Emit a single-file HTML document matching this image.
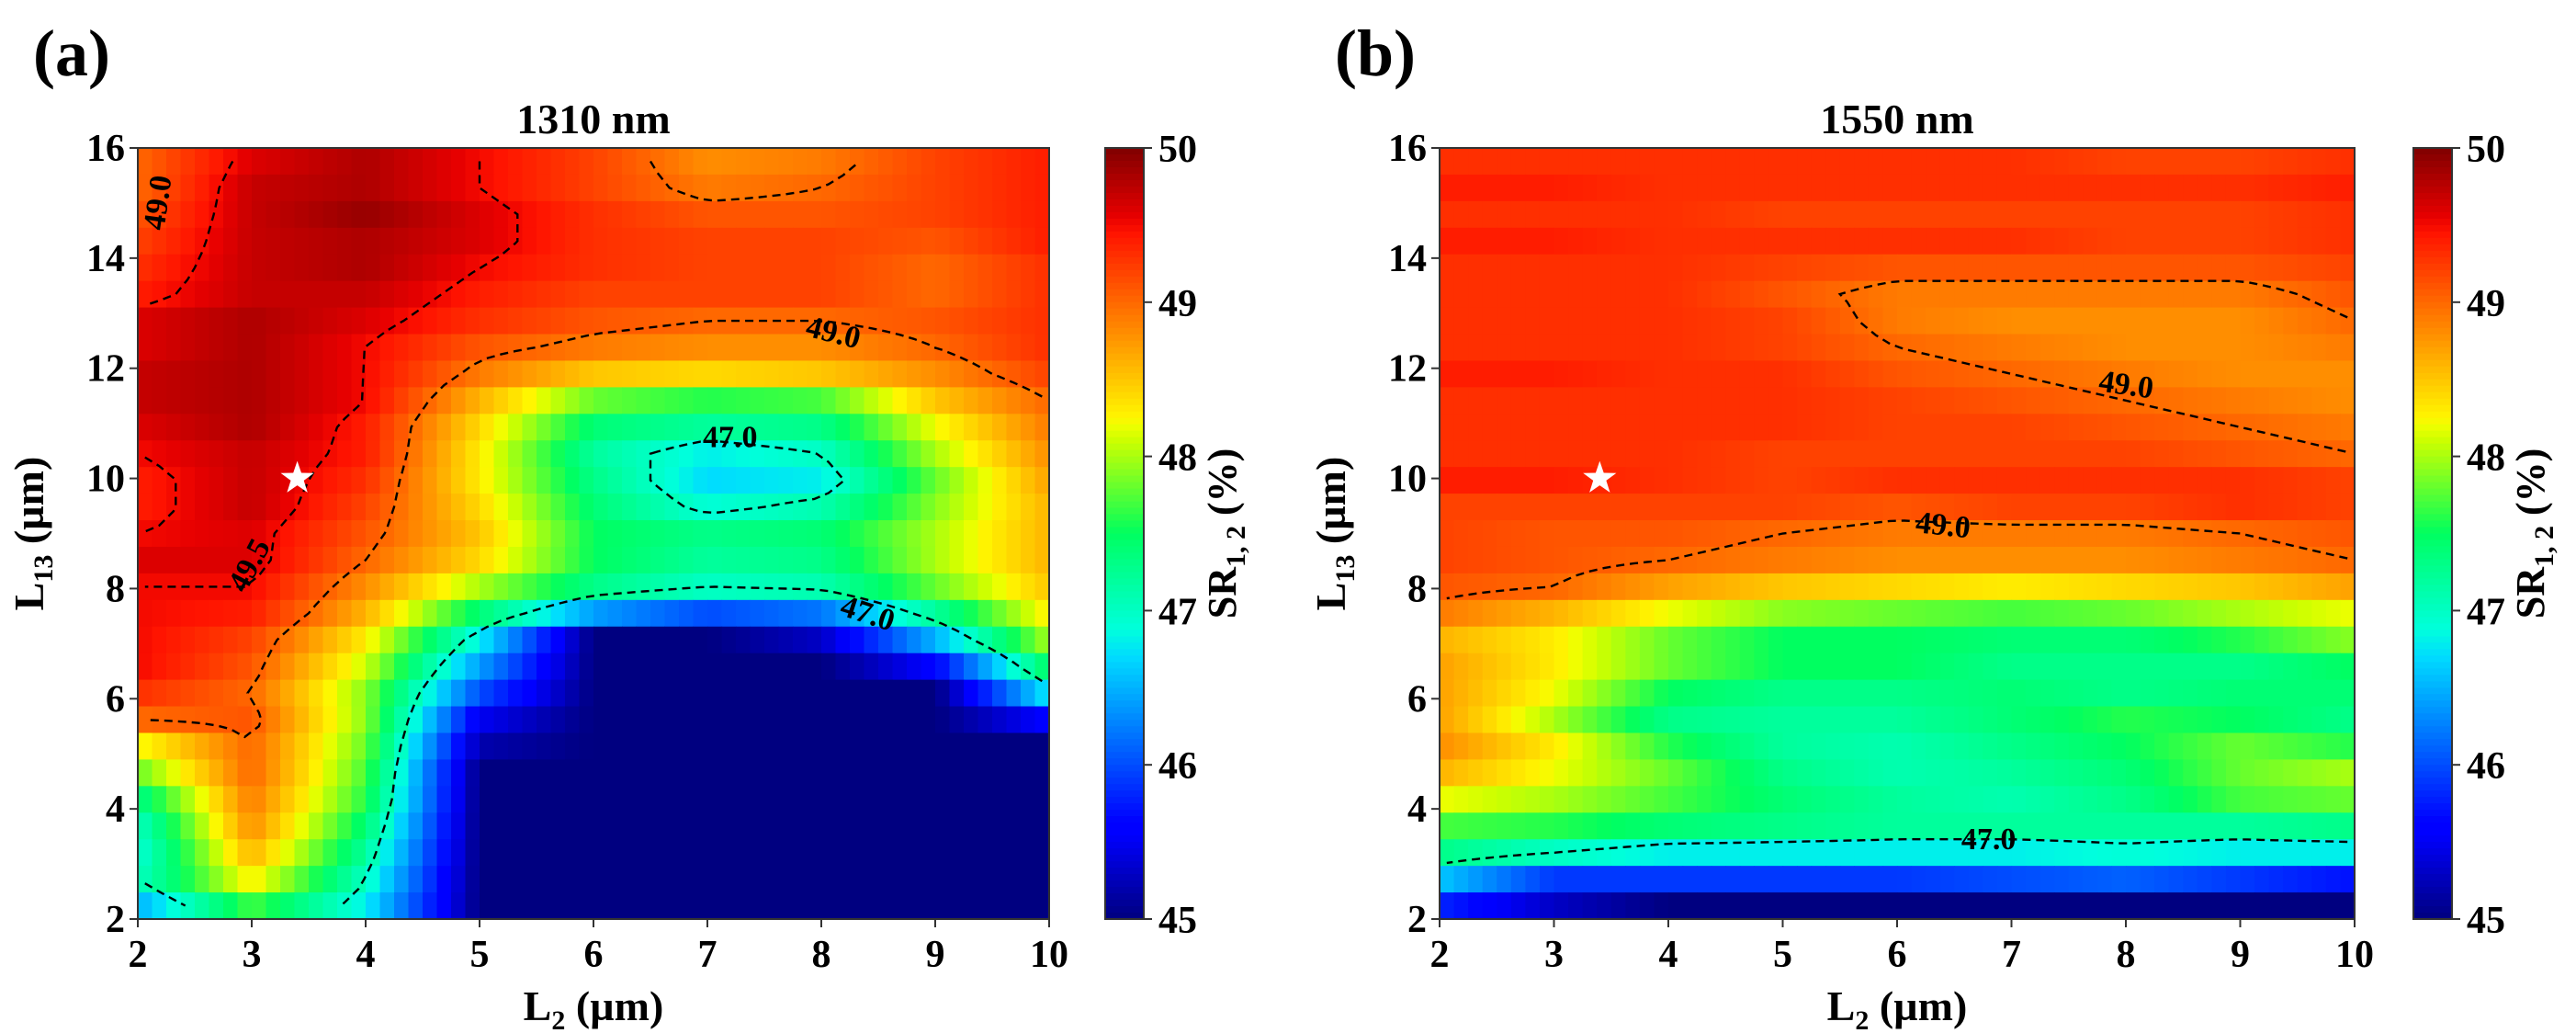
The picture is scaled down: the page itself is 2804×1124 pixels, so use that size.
<!DOCTYPE html>
<html><head><meta charset="utf-8"><style>
html,body{margin:0;padding:0;background:#fff;}
svg{display:block;font-family:"Liberation Serif",serif;font-weight:bold;}
</style></head><body>
<svg id="fig" width="2804" height="1124" viewBox="0 0 2804 1124" xmlns="http://www.w3.org/2000/svg"></svg>
<script>
// ---- data ----
const xValues = [2,3,4,5,6,7,8,9,10];
const yValues = [16,15.5,15,14.5,14,13.5,13,12.5,12,11.5,11,10.5,10,9.5,9,8.5,8,7.5,7,6.5,6,5.5,5,4.5,4,3.5,3,2.5,2];
const sr1310 = [
[49.0,49.6,49.8,49.5,49.2,48.8,48.9,49.2,49.4],
[49.0,49.7,49.8,49.5,49.2,48.9,49.0,49.2,49.4],
[49.1,49.7,49.9,49.6,49.3,49.1,49.1,49.2,49.4],
[49.2,49.7,49.8,49.6,49.3,49.2,49.2,49.1,49.4],
[49.3,49.7,49.8,49.5,49.3,49.2,49.2,49.0,49.3],
[49.4,49.7,49.7,49.4,49.2,49.2,49.2,49.0,49.3],
[49.6,49.8,49.6,49.3,49.1,49.0,49.0,49.1,49.3],
[49.6,49.8,49.5,49.1,48.9,48.8,48.8,49.0,49.3],
[49.7,49.8,49.5,48.9,48.5,48.4,48.5,48.8,49.2],
[49.7,49.8,49.5,48.6,47.8,47.6,47.7,48.5,49.0],
[49.6,49.8,49.4,48.4,47.4,47.2,47.3,48.2,48.9],
[49.5,49.7,49.4,48.3,47.2,46.8,47.0,48.0,48.8],
[49.4,49.7,49.3,48.3,47.3,46.7,46.8,47.8,48.7],
[49.4,49.7,49.2,48.4,47.4,46.9,47.1,47.9,48.6],
[49.5,49.6,49.1,48.5,47.5,47.3,47.4,48.0,48.6],
[49.6,49.6,49.0,48.4,47.5,47.2,47.3,48.0,48.6],
[49.5,49.5,48.8,48.0,47.3,47.0,47.1,47.8,48.5],
[49.5,49.4,48.6,47.4,46.4,46.0,46.2,47.2,48.3],
[49.5,49.2,48.3,46.8,45.0,45.0,45.3,46.5,48.0],
[49.5,49.1,48.1,46.4,45.0,45.0,45.0,45.6,47.5],
[49.3,49.0,47.9,46.0,45.0,45.0,45.0,45.0,46.8],
[49.0,49.1,47.9,45.5,45.0,45.0,45.0,45.0,45.6],
[48.2,49.0,47.8,45.2,45.0,45.0,45.0,45.0,45.0],
[47.8,49.0,47.7,45.0,45.0,45.0,45.0,45.0,45.0],
[47.3,48.9,47.6,45.0,45.0,45.0,45.0,45.0,45.0],
[47.0,48.8,47.4,45.0,45.0,45.0,45.0,45.0,45.0],
[46.9,48.6,47.2,45.0,45.0,45.0,45.0,45.0,45.0],
[47.0,48.3,47.0,45.0,45.0,45.0,45.0,45.0,45.0],
[46.5,47.7,46.8,45.0,45.0,45.0,45.0,45.0,45.0]];
const sr1550 = [
[49.3,49.3,49.3,49.3,49.3,49.3,49.2,49.2,49.3],
[49.4,49.4,49.3,49.3,49.3,49.3,49.3,49.3,49.4],
[49.3,49.3,49.3,49.2,49.2,49.2,49.2,49.2,49.3],
[49.4,49.4,49.3,49.3,49.3,49.3,49.2,49.2,49.3],
[49.3,49.3,49.3,49.2,49.1,49.1,49.1,49.1,49.2],
[49.3,49.3,49.3,49.1,48.9,48.9,48.9,48.9,49.1],
[49.3,49.3,49.3,49.2,48.9,48.8,48.8,48.8,49.0],
[49.3,49.3,49.3,49.2,49.0,48.9,48.8,48.8,48.9],
[49.4,49.4,49.3,49.3,49.1,49.0,48.9,48.8,48.8],
[49.3,49.3,49.3,49.3,49.2,49.1,49.0,48.9,48.8],
[49.3,49.3,49.3,49.3,49.2,49.2,49.1,49.0,48.9],
[49.3,49.3,49.3,49.2,49.2,49.2,49.2,49.1,49.0],
[49.4,49.4,49.3,49.2,49.3,49.3,49.3,49.3,49.2],
[49.2,49.2,49.2,49.2,49.1,49.2,49.2,49.3,49.2],
[49.2,49.1,49.1,49.0,48.9,48.9,48.9,49.0,49.1],
[49.2,49.1,49.0,48.9,48.8,48.8,48.8,48.9,49.0],
[49.1,49.0,48.7,48.5,48.4,48.3,48.4,48.5,48.7],
[48.9,48.6,48.2,47.9,47.8,47.7,47.8,48.0,48.2],
[48.6,48.3,47.8,47.5,47.5,47.4,47.4,47.6,47.9],
[48.7,48.3,47.8,47.5,47.5,47.3,47.3,47.3,47.5],
[48.7,48.2,47.5,47.3,47.3,47.4,47.3,47.4,47.4],
[48.7,48.0,47.3,47.2,47.2,47.4,47.6,47.5,47.3],
[48.8,48.3,47.6,47.2,47.1,47.3,47.5,47.8,47.6],
[48.6,48.2,47.8,47.3,47.1,47.2,47.4,47.8,48.0],
[48.2,48.0,47.7,47.4,47.2,47.1,47.3,47.7,47.8],
[47.7,47.6,47.4,47.3,47.2,47.2,47.2,47.2,47.3],
[47.3,47.0,46.8,46.8,46.8,46.8,46.9,46.8,46.8],
[46.6,45.9,45.9,45.9,45.9,46.0,46.1,45.9,45.7],
[45.8,45.3,45.0,45.0,45.0,45.0,45.0,45.0,45.0]];
const xTicks = [2,3,4,5,6,7,8,9,10];
const yTicks = [2,4,6,8,10,12,14,16];
const cbTicks = [45,46,47,48,49,50];
const levels1310 = [47.0,49.0,49.5];
const levels1550 = [47.0,49.0];
const labels1310 = [{t:"49.0",x:2.2,y:15.0,r:-82},{t:"47.0",x:7.2,y:10.7,r:0},{t:"49.0",x:8.1,y:12.6,r:14},{t:"49.5",x:3.0,y:8.4,r:-62},{t:"47.0",x:8.4,y:7.5,r:18}];
const labels1550 = [{t:"49.0",x:8.0,y:11.65,r:8},{t:"49.0",x:6.4,y:9.1,r:6},{t:"47.0",x:6.8,y:3.4,r:0}];
const starPoint = {x:3.4,y:10};

const NS="http://www.w3.org/2000/svg";
const svg=document.getElementById('fig');
function mk(tag,attrs,parent){const e=document.createElementNS(NS,tag);for(const k in attrs)e.setAttribute(k,attrs[k]);(parent||svg).appendChild(e);return e;}
function interp(pts,t){for(let i=0;i<pts.length-1;i++){if(t<=pts[i+1][0]){const f=(t-pts[i][0])/(pts[i+1][0]-pts[i][0]);return pts[i][1]+f*(pts[i+1][1]-pts[i][1]);}}return pts[pts.length-1][1];}
function jet(v){let t=Math.max(0,Math.min(1,(v-45)/5));
const r=interp([[0,0],[0.5,0],[0.65,1],[0.89,1],[1,0.5]],t);
const g=interp([[0,0],[0.125,0],[0.375,1],[0.64,1],[0.91,0],[1,0]],t);
const b=interp([[0,0.5],[0.11,1],[0.34,1],[0.52,0.3],[0.62,0],[1,0]],t);
return `rgb(${Math.round(r*255)},${Math.round(g*255)},${Math.round(b*255)})`;}

function panel(opt){
 const {L,R,T,B,data,levels,labels,title,tag,cbL,prefix}=opt;
 const W=R-L,H=B-T;
 const g=mk('g',{});
 
 
 const sx=x=>L+(x-2)/8*W, sy=y=>T+(16-y)/14*H;
 const N=64, rows=yValues.length, rh=H/rows, cw=W/N;
 const valAt=(j,xv)=>{const row=data[j];let k=Math.min(xValues.length-2,Math.floor((xv-2)));const f=(xv-xValues[k])/(xValues[k+1]-xValues[k]);return row[k]+f*(row[k+1]-row[k]);};
 const V=[];
 const hm=mk('g',{},g);
 
 
 for(let j=0;j<rows;j++){V.push([]);for(let i=0;i<N;i++){const xv=2+8*(i+0.5)/N;const v=valAt(j,xv);V[j].push(v);
  const c=mk('rect',{x:(L+i*cw).toFixed(2),y:(T+j*rh).toFixed(2),width:(cw+0.6).toFixed(2),height:(rh+0.6).toFixed(2),fill:jet(v)},hm);
  
  
 }}
 const px=i=>L+(i+0.5)*cw, py=j=>T+(j+0.5)*rh;
 levels.forEach(lv=>{
  const adj={},pos={};
  const addSeg=(a,b)=>{(adj[a]=adj[a]||[]).push(b);(adj[b]=adj[b]||[]).push(a);};
  for(let j=0;j<rows-1;j++)for(let i=0;i<N-1;i++){
   const a=V[j][i],b=V[j][i+1],c=V[j+1][i+1],d=V[j+1][i];
   const pts=[];
   const chk=(v1,v2,id,p1,p2)=>{if((v1<lv)!==(v2<lv)){const f=(lv-v1)/(v2-v1);pos[id]=[p1[0]+f*(p2[0]-p1[0]),p1[1]+f*(p2[1]-p1[1])];pts.push(id);}};
   chk(a,b,`h${j}_${i}`,[px(i),py(j)],[px(i+1),py(j)]);
   chk(b,c,`v${j}_${i+1}`,[px(i+1),py(j)],[px(i+1),py(j+1)]);
   chk(d,c,`h${j+1}_${i}`,[px(i),py(j+1)],[px(i+1),py(j+1)]);
   chk(a,d,`v${j}_${i}`,[px(i),py(j)],[px(i),py(j+1)]);
   if(pts.length===2)addSeg(pts[0],pts[1]);
   else if(pts.length===4){addSeg(pts[0],pts[1]);addSeg(pts[2],pts[3]);}
  }
  const used={};let dstr='';
  const keys=Object.keys(adj);
  const starts=keys.filter(k=>adj[k].length===1).concat(keys);
  starts.forEach(s=>{if(used[s])return;let cur=s,prev=null;used[cur]=1;dstr+=`M${pos[cur][0].toFixed(1)},${pos[cur][1].toFixed(1)}`;
   while(true){const nx=(adj[cur]||[]).find(n=>n!==prev&&!used[n]);if(!nx){const back=(adj[cur]||[]).find(n=>n===s&&prev!==s);if(back&&cur!==s)dstr+='Z';break;}used[nx]=1;dstr+=`L${pos[nx][0].toFixed(1)},${pos[nx][1].toFixed(1)}`;prev=cur;cur=nx;}
  });
  const p=mk('path',{d:dstr,fill:'none',stroke:'#000','stroke-width':2.4,'stroke-dasharray':'9,6'},g);
  
  
 });
 labels.forEach(lb=>{const t=mk('text',{x:sx(lb.x),y:sy(lb.y),'font-size':34,'text-anchor':'middle','dominant-baseline':'middle',transform:`rotate(${lb.r} ${sx(lb.x)} ${sy(lb.y)})`},g);t.textContent=lb.t;
  
  });
 const cx=sx(starPoint.x),cy=sy(starPoint.y);let sp='';
 for(let k=0;k<10;k++){const r=k%2?7.5:19;const a=-Math.PI/2+k*Math.PI/5;sp+=(k?'L':'M')+(cx+r*Math.cos(a)).toFixed(1)+','+(cy+r*Math.sin(a)).toFixed(1);}
 const st=mk('path',{d:sp+'Z',fill:'#fff'},g);
 
 
 const fr=mk('rect',{x:L,y:T,width:W,height:H,fill:'none',stroke:'#333','stroke-width':2},g);
 
 
 xTicks.forEach(v=>{mk('line',{x1:sx(v),x2:sx(v),y1:B,y2:B+9,stroke:'#333','stroke-width':2},g);
  const t=mk('text',{x:sx(v),y:B+52,'font-size':42,'text-anchor':'middle'},g);t.textContent=v;
  
  });
 yTicks.forEach(v=>{mk('line',{x1:L-9,x2:L,y1:sy(v),y2:sy(v),stroke:'#333','stroke-width':2},g);
  const t=mk('text',{x:L-14,y:sy(v)+14,'font-size':42,'text-anchor':'end'},g);t.textContent=v;
  
  });
 const xl=mk('text',{x:(L+R)/2,y:B+110,'font-size':46,'text-anchor':'middle'},g);
 xl.innerHTML='L<tspan font-size="30" dy="10">2</tspan><tspan dy="-10"> (µm)</tspan>';
 
 
 const yx=L-103, yy=(T+B)/2;
 const yl=mk('text',{x:yx,y:yy,'font-size':46,'text-anchor':'middle',transform:`rotate(-90 ${yx} ${yy})`},g);
 yl.innerHTML='L<tspan font-size="30" dy="10">13</tspan><tspan dy="-10"> (µm)</tspan>';
 
 
 const ti=mk('text',{x:(L+R)/2,y:T-16,'font-size':46,'text-anchor':'middle'},g);ti.textContent=title;
 
 
 const tg=mk('text',{x:L-114,y:82,'font-size':72,'text-anchor':'start'},g);tg.textContent=tag;
 
 
 const cb=mk('g',{},g);
 
 
 const cbW=42,steps=120;
 for(let k=0;k<steps;k++){mk('rect',{x:cbL,y:(T+k*H/steps).toFixed(2),width:cbW,height:(H/steps+0.6).toFixed(2),fill:jet(50-5*(k+0.5)/steps)},cb);}
 mk('rect',{x:cbL,y:T,width:cbW,height:H,fill:'none',stroke:'#333','stroke-width':2},cb);
 const cy2=v=>B-(v-45)/5*H;
 cbTicks.forEach(v=>{mk('line',{x1:cbL+cbW,x2:cbL+cbW+9,y1:cy2(v),y2:cy2(v),stroke:'#333','stroke-width':2},cb);
  const t=mk('text',{x:cbL+cbW+16,y:cy2(v)+15,'font-size':42},cb);t.textContent=v;
  
  });
 const lx=cbL+cbW+100, ly=(T+B)/2;
 const cl=mk('text',{x:lx,y:ly,'font-size':44,'text-anchor':'middle',transform:`rotate(-90 ${lx} ${ly})`},cb);
 cl.innerHTML='SR<tspan font-size="30" dy="10">1, 2</tspan><tspan dy="-10"> (%)</tspan>';
 
 
}
panel({L:150,R:1142,T:161,B:1000,data:sr1310,levels:levels1310,labels:labels1310,title:'1310 nm',tag:'(a)',cbL:1203,prefix:'panel-a'});
panel({L:1567,R:2563,T:161,B:1000,data:sr1550,levels:levels1550,labels:labels1550,title:'1550 nm',tag:'(b)',cbL:2627,prefix:'panel-b'});
</script>
</body></html>
